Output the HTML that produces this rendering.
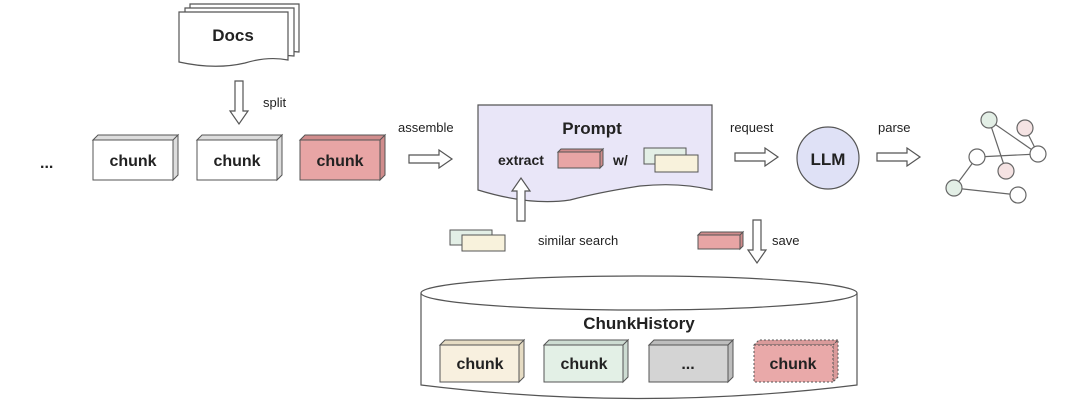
<!DOCTYPE html>
<html><head><meta charset="utf-8"><style>
html,body{margin:0;padding:0;background:#fff}
svg{display:block}
text{font-family:"Liberation Sans",sans-serif;fill:#222}
.b{font-weight:bold}
</style></head><body>
<svg width="1080" height="402" viewBox="0 0 1080 402">
<defs>
<g id="arrowR"><path d="M0,-4 H30 V-9 L43,0 L30,9 V4 H0 Z" fill="#fff" stroke="#555" stroke-width="1.2"/></g>
<g id="arrowD"><path d="M-4,0 V30 H-9 L0,43 L9,30 H4 V0 Z" fill="#fff" stroke="#555" stroke-width="1.2"/></g>
</defs>
<!-- Docs -->
<g stroke="#555" stroke-width="1.2" fill="#fff">
<path d="M190,4 H299 V52 Q280,50 260,56 Q240,62 190,58 Z"/>
<path d="M185,8 H294 V56 Q275,54 255,60 Q235,66 185,62 Z"/>
<path d="M179,12 H288 V60 Q268,56 245,63 Q215,70 179,62 Z"/>
</g>
<text x="233" y="41" font-size="17" class="b" text-anchor="middle">Docs</text>
<use href="#arrowD" x="239" y="81"/>
<text x="263" y="107" font-size="13">split</text>
<text x="40" y="168" font-size="16" class="b">...</text>
<!-- top chunks -->
<g stroke="#555" stroke-width="1">
<path d="M93,140 L98,135 H178 L173,140 Z M173,140 L178,135 V175 L173,180 Z" fill="#ddd"/>
<rect x="93" y="140" width="80" height="40" fill="#fff"/>
<path d="M197,140 L202,135 H282 L277,140 Z M277,140 L282,135 V175 L277,180 Z" fill="#ddd"/>
<rect x="197" y="140" width="80" height="40" fill="#fff"/>
<path d="M300,140 L305,135 H385 L380,140 Z M380,140 L385,135 V175 L380,180 Z" fill="#d08c8c"/>
<rect x="300" y="140" width="80" height="40" fill="#e8a5a5"/>
</g>
<text x="133" y="166" font-size="16" class="b" text-anchor="middle">chunk</text>
<text x="237" y="166" font-size="16" class="b" text-anchor="middle">chunk</text>
<text x="340" y="166" font-size="16" class="b" text-anchor="middle">chunk</text>
<text x="398" y="132" font-size="13">assemble</text>
<use href="#arrowR" x="409" y="159"/>
<!-- Prompt -->
<path d="M478,105 H712 V190 Q680,182 640,186 Q600,192 570,200 Q530,206 478,190 Z" fill="#e9e6f8" stroke="#555" stroke-width="1.2"/>
<text x="592" y="134" font-size="17" class="b" text-anchor="middle">Prompt</text>
<text x="498" y="165" font-size="14" class="b">extract</text>
<g stroke="#555" stroke-width="1">
<path d="M558,152 L561,149 H603 L600,152 Z M600,152 L603,149 V165 L600,168 Z" fill="#d08c8c"/>
<rect x="558" y="152" width="42" height="16" fill="#e8a5a5"/>
<rect x="644" y="148" width="42" height="16" fill="#e3efe6"/>
<rect x="655" y="155" width="43" height="17" fill="#f8f2dc"/>
</g>
<text x="613" y="165" font-size="14" class="b">w/</text>
<text x="730" y="132" font-size="13">request</text>
<use href="#arrowR" x="735" y="157"/>
<circle cx="828" cy="158" r="31" fill="#dfe1f6" stroke="#555" stroke-width="1.2"/>
<text x="828" y="165" font-size="17" class="b" text-anchor="middle">LLM</text>
<text x="878" y="132" font-size="13">parse</text>
<use href="#arrowR" x="877" y="157"/>
<!-- graph -->
<g stroke="#666" stroke-width="1.2">
<line x1="989" y1="120" x2="1038" y2="154"/>
<line x1="989" y1="120" x2="1006" y2="171"/>
<line x1="1025" y1="128" x2="1038" y2="154"/>
<line x1="977" y1="157" x2="1038" y2="154"/>
<line x1="977" y1="157" x2="954" y2="188"/>
<line x1="954" y1="188" x2="1018" y2="195"/>
<circle cx="989" cy="120" r="8" fill="#e3efe6"/>
<circle cx="1025" cy="128" r="8" fill="#f5e3e3"/>
<circle cx="1038" cy="154" r="8" fill="#fff"/>
<circle cx="977" cy="157" r="8" fill="#fff"/>
<circle cx="1006" cy="171" r="8" fill="#f5e3e3"/>
<circle cx="954" cy="188" r="8" fill="#e3efe6"/>
<circle cx="1018" cy="195" r="8" fill="#fff"/>
</g>
<!-- similar search -->
<g stroke="#555" stroke-width="1">
<rect x="450" y="230" width="42" height="15" fill="#e3efe6"/>
<rect x="462" y="235" width="43" height="16" fill="#f8f2dc"/>
<path d="M698,235 L701,232 H743 L740,235 Z M740,235 L743,232 V246 L740,249 Z" fill="#d08c8c"/>
<rect x="698" y="235" width="42" height="14" fill="#e8a5a5"/>
</g>
<use href="#arrowD" x="521" y="262" transform="rotate(180 521 241.5)"/>
<text x="538" y="245" font-size="13">similar search</text>
<use href="#arrowD" x="757" y="220"/>
<text x="772" y="245" font-size="13">save</text>
<!-- cylinder -->
<path d="M421,293 V385 Q639,412 857,385 V293" fill="#fff" stroke="#555" stroke-width="1.2"/>
<ellipse cx="639" cy="293" rx="218" ry="17" fill="#fff" stroke="#555" stroke-width="1.2"/>
<text x="639" y="329" font-size="17" class="b" text-anchor="middle">ChunkHistory</text>
<g stroke="#555" stroke-width="1">
<path d="M440,345 L445,340 H524 L519,345 Z M519,345 L524,340 V377 L519,382 Z" fill="#e6dcc4"/>
<rect x="440" y="345" width="79" height="37" fill="#f8f0df"/>
<path d="M544,345 L549,340 H628 L623,345 Z M623,345 L628,340 V377 L623,382 Z" fill="#cddcd2"/>
<rect x="544" y="345" width="79" height="37" fill="#e3f0e6"/>
<path d="M649,345 L654,340 H733 L728,345 Z M728,345 L733,340 V377 L728,382 Z" fill="#bdbdbd"/>
<rect x="649" y="345" width="79" height="37" fill="#d4d4d4"/>
<path d="M754,345 L759,340 H838 L833,345 Z M833,345 L838,340 V377 L833,382 Z" fill="#d99a9a" stroke-dasharray="2,2"/>
<rect x="754" y="345" width="79" height="37" fill="#e9a9a9" stroke-dasharray="2,2"/>
</g>
<text x="480" y="369" font-size="16" class="b" text-anchor="middle">chunk</text>
<text x="584" y="369" font-size="16" class="b" text-anchor="middle">chunk</text>
<text x="688" y="369" font-size="16" class="b" text-anchor="middle">...</text>
<text x="793" y="369" font-size="16" class="b" text-anchor="middle">chunk</text>
</svg>
</body></html>
